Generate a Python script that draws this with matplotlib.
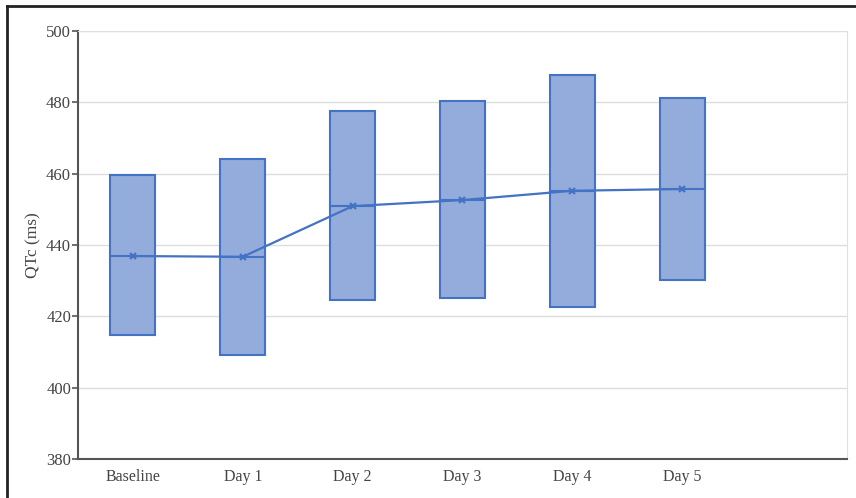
import matplotlib.pyplot as plt
from matplotlib.lines import Line2D

days = ["Baseline", "Day 1", "Day 2", "Day 3", "Day 4", "Day 5"]
upper = [459.6, 464.1, 477.6, 480.4, 487.7, 481.3]
lower = [414.8, 409.2, 424.6, 425.1, 422.6, 430.2]
mean_qtc = [436.9, 436.7, 450.9, 452.6, 455.2, 455.7]

plt.rcParams['font.family'] = ['Liberation Serif', 'DejaVu Serif']

blue = '#4472c4'
fill = '#93acdc'

fig = plt.figure(figsize=(8.56, 4.98), dpi=100)
ax = fig.add_axes([78 / 856, 39 / 498, 769 / 856, 428 / 498])

x = list(range(len(days)))
heights = [u - l for u, l in zip(upper, lower)]
ax.bar(x, heights, bottom=lower, width=0.41, color=fill, edgecolor=blue,
       linewidth=1.5, zorder=2)
for xi, m in zip(x, mean_qtc):
    ax.plot([xi - 0.205, xi + 0.205], [m, m], color=blue, lw=1.5, zorder=3)
ax.plot(x, mean_qtc, color=blue, lw=1.6, marker='x', markersize=4.5,
        markeredgewidth=1.6, zorder=4)

ax.set_xlim(-0.5, 6.5)
ax.set_ylim(380, 500)
ax.set_yticks(range(380, 501, 20))
ax.set_xticks(x)
ax.set_xticklabels(days)
ax.yaxis.grid(True, color='#dddddd', lw=1)
ax.set_axisbelow(True)

for s in ['top', 'right']:
    ax.spines[s].set_color('#e0e0e0')
for s in ['left', 'bottom']:
    ax.spines[s].set_color('#555555')
    ax.spines[s].set_linewidth(1.5)
ax.tick_params(axis='y', length=4, width=1.2, color='#555555',
               labelsize=12, labelcolor='#444444', pad=1)
ax.tick_params(axis='x', length=0, labelsize=11.5, labelcolor='#444444', pad=7)
ax.set_ylabel("QTc (ms)", fontsize=12.5, color='#444444', labelpad=3)

# frame of the screenshot
fig.add_artist(Line2D([7 / 856, 1], [1 - 6 / 498, 1 - 6 / 498],
                      transform=fig.transFigure, color='#222222', lw=2))
fig.add_artist(Line2D([7 / 856, 7 / 856], [0, 1 - 6 / 498],
                      transform=fig.transFigure, color='#222222', lw=2))

fig.savefig("out.png", dpi=100)
